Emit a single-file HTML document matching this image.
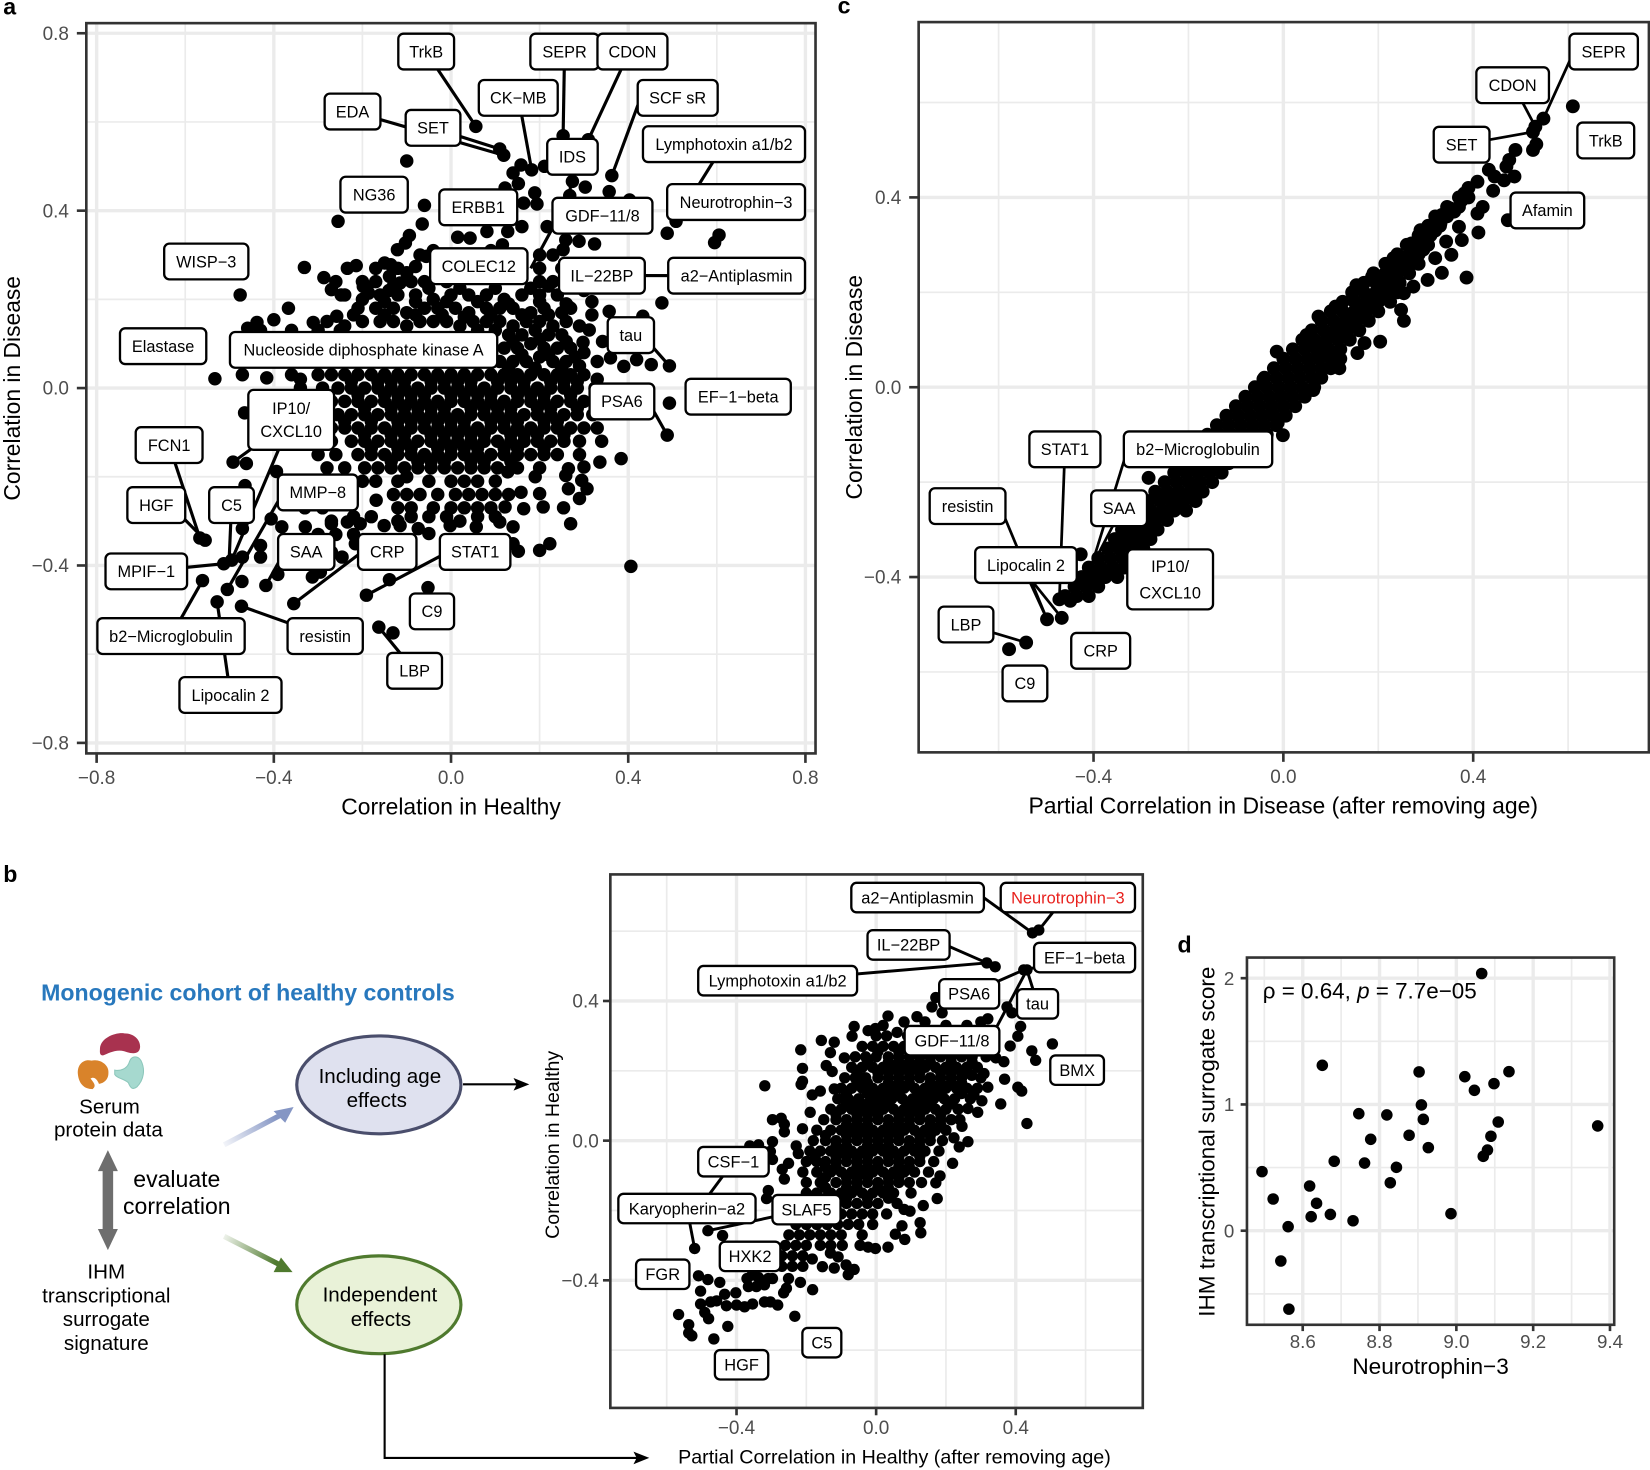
<!DOCTYPE html>
<html lang="en">
<head>
<meta charset="utf-8">
<title>Protein correlation figure</title>
<style>
html,body{margin:0;padding:0;background:#fff;}
svg{display:block;font-family:"Liberation Sans",Arial,sans-serif;}
</style>
</head>
<body>
<svg id="fig" xmlns="http://www.w3.org/2000/svg" width="1650" height="1470" viewBox="0 0 1568 1397">
<defs>
<linearGradient id="blueFade" gradientUnits="userSpaceOnUse" x1="213" y1="1088" x2="262" y2="1061"><stop offset="0" stop-color="#8596c4" stop-opacity="0.1"/><stop offset="1" stop-color="#8596c4"/></linearGradient>
<linearGradient id="greenFade" gradientUnits="userSpaceOnUse" x1="213" y1="1175" x2="262" y2="1200"><stop offset="0" stop-color="#4f7a2e" stop-opacity="0.1"/><stop offset="1" stop-color="#4f7a2e"/></linearGradient>
</defs>
<rect x="0" y="0" width="1568" height="1397" fill="#fff"/>
<g id="layerA"></g>
<g id="layerC"></g>
<g id="layerB"></g>
<g id="layerD"></g>

<g font-weight="700" font-size="22" fill="#000">
<text x="3" y="14">a</text>
<text x="796" y="13">c</text>
<text x="3" y="838">b</text>
<text x="1119" y="905">d</text>
</g>

<text x="428.6" y="774" font-size="21.7" text-anchor="middle" fill="#000">Correlation in Healthy</text>
<text transform="translate(19,369) rotate(-90)" font-size="21.7" text-anchor="middle" fill="#000">Correlation in Disease</text>
<text x="1219.5" y="773" font-size="21.8" text-anchor="middle" fill="#000">Partial Correlation in Disease (after removing age)</text>
<text transform="translate(819,368) rotate(-90)" font-size="21.7" text-anchor="middle" fill="#000">Correlation in Disease</text>
<text x="850" y="1391" font-size="18.7" text-anchor="middle" fill="#000">Partial Correlation in Healthy (after removing age)</text>
<text transform="translate(531,1088) rotate(-90)" font-size="18.6" text-anchor="middle" fill="#000">Correlation in Healthy</text>
<text x="1359.5" y="1306" font-size="21.5" text-anchor="middle" fill="#000">Neurotrophin−3</text>
<text transform="translate(1154,1085) rotate(-90)" font-size="21.4" text-anchor="middle" fill="#000">IHM transcriptional surrogate score</text>
<text x="1200" y="949" font-size="21.3" fill="#000">ρ = 0.64, <tspan font-style="italic">p</tspan> = 7.7e−05</text>

<g>
<ellipse cx="360" cy="1031" rx="78" ry="46.5" fill="#dfe1ef" stroke="#4a4e6c" stroke-width="3"/>
<ellipse cx="360" cy="1240" rx="78" ry="46.5" fill="#e9f2d8" stroke="#4f7a2e" stroke-width="3"/>
<text x="39" y="951" font-size="22" font-weight="700" fill="#2878bd">Monogenic cohort of healthy controls</text>
<path d="M95 996C96 986 110 981 118 982C128 982 134 989 133 996C132 1002 126 1002 118 999C110 997 103 1001 98 1003C94 1003 95 999 95 996Z" fill="#a8324f"/>
<path d="M74 1021C73 1011 80 1006 87 1008C95 1006 104 1012 103 1020C103 1027 97 1030 94 1030C92 1025 89 1023 86 1025C89 1029 92 1032 88 1035C80 1035 75 1030 74 1021Z" fill="#d9832a"/>
<path d="M109 1017C114 1018 121 1016 123 1009C125 1003 131 1003 134 1008C138 1016 137 1026 130 1033C126 1036 124 1034 122 1029C118 1025 111 1025 109 1021Z" fill="#a6d9cf" stroke="#8cc7bb"/>
<g font-size="19.6" text-anchor="middle" fill="#000">
<text x="104" y="1058">Serum</text>
<text x="103" y="1080">protein data</text>
<text x="101" y="1215">IHM</text>
<text x="101" y="1238">transcriptional</text>
<text x="101" y="1260">surrogate</text>
<text x="101" y="1283">signature</text>
<text x="361" y="1029">Including age</text>
<text x="358" y="1052">effects</text>
<text x="361" y="1237">Independent</text>
<text x="362" y="1260">effects</text>
</g>
<g font-size="21.9" text-anchor="middle" fill="#000">
<text x="168" y="1128">evaluate</text>
<text x="168" y="1153.5">correlation</text>
</g>
<polygon points="102.5,1093 112,1113 107.5,1113 107.5,1168 112,1168 102.5,1188 93,1168 97.5,1168 97.5,1113 93,1113" fill="#6e6e6e"/>
<line x1="213" y1="1088" x2="266" y2="1060" stroke="url(#blueFade)" stroke-width="5"/>
<polygon points="279,1052 260,1056 271,1067" fill="#8596c4"/>
<line x1="213" y1="1175" x2="266" y2="1202" stroke="url(#greenFade)" stroke-width="5"/>
<polygon points="278,1209 267,1195 260,1209" fill="#4f7a2e"/>
<line x1="440" y1="1030.5" x2="492" y2="1030.5" stroke="#000" stroke-width="2"/>
<polygon points="503,1030.5 488,1024.5 491,1030.5 488,1036.5" fill="#000"/>
<polyline points="365.5,1287 365.5,1385.5 606,1385.5" fill="none" stroke="#000" stroke-width="2"/>
<polygon points="617,1385.5 602,1379.5 605,1385.5 602,1391.5" fill="#000"/>
</g>

<script>
const aXTicks=[-0.8,-0.4,0,0.4,0.8];
const aYTicks=[0.8,0.4,0,-0.4,-0.8];
const aMinor=[-0.6,-0.2,0.2,0.6];
const cXTicks=[-0.4,0,0.4];
const cYTicks=[0.4,0,-0.4];
const cMinor=[-0.6,-0.2,0.2,0.6];
const bXTicks=[-0.4,0,0.4];
const bYTicks=[0.4,0,-0.4];
const bMinor=[-0.6,-0.2,0.2,0.6];
const dXTicks=[8.6,8.8,9.0,9.2,9.4];
const dYTicks=[2,1,0];
const dXMinor=[8.5,8.7,8.9,9.1,9.3];
const dYMinor=[1.5,0.5,-0.5];

const dNeurotrophin=[9.066,8.651,8.903,9.022,9.047,9.098,9.137,8.909,8.746,8.819,8.914,9.109,9.368,8.877,8.777,9.09,8.927,9.081,9.07,8.682,8.761,8.844,8.494,8.828,8.618,8.523,8.636,8.672,8.622,8.986,8.731,8.562,8.543,8.564];
const dSurrogate=[2.037,1.31,1.258,1.22,1.112,1.165,1.26,0.996,0.927,0.917,0.882,0.861,0.83,0.756,0.724,0.748,0.658,0.639,0.589,0.55,0.536,0.502,0.468,0.38,0.354,0.251,0.217,0.129,0.111,0.135,0.079,0.032,-0.24,-0.621];

const aOutliers=[[.056,.59],[.11,.539],[.119,.525],[-.1,.512],[.253,.569],[.31,.56],[.158,.503],[.182,.492],[.14,.485],[.211,.5],[.363,.479],[.357,.443],[.274,.466],[.303,.453],[.268,.434],[.152,.461],[.122,.451],[.189,.44],[.194,.415],[.164,.417],[-.06,.412],[-.255,.376],[-.065,.37],[.403,.424],[.508,.376],[.488,.349],[.605,.345],[.595,.328],[.16,.364],[.128,.353],[.081,.353],[.217,.364],[.015,.34],[.043,.338],[-.094,.344],[-.103,.327],[-.121,.312],[.116,.323],[.259,.334],[.289,.331],[.324,.325],[.253,.312],[-.15,.282],[-.136,.278],[-.234,.27],[-.214,.276],[-.331,.272],[-.287,.249],[-.27,.222],[-.248,.21],[-.198,.229],[-.186,.214],[-.139,.252],[-.115,.237],[-.08,.274],[-.056,.297],[-.476,.21],[.476,.192],[-.367,.18],[-.4,.154],[-.438,.148],[-.459,.135],[-.311,.148],[-.258,.162],[.357,.173],[.433,.162],[.318,.195],[.265,.184],[.318,.165],[.312,.131],[.342,.105],[.298,.103],[.493,.05],[.452,.053],[.419,.064],[.39,.049],[.36,.068],[-.533,.021],[-.471,.03],[-.416,.023],[.493,-.034],[-.466,-.056],[.488,-.106],[.384,-.159],[.336,-.167],[.3,-.178],[.265,-.182],[.259,-.197],[.295,-.208],[.307,-.227],[.265,-.227],[.29,-.249],[.254,-.27],[.27,-.306],[.208,-.268],[.2,-.238],[.158,-.235],[.164,-.272],[.128,-.189],[.122,-.268],[.14,-.313],[.11,-.302],[.057,-.313],[.223,-.351],[.2,-.366],[.152,-.368],[.14,-.351],[.406,-.402],[-.052,-.45],[-.139,-.432],[-.191,-.467],[-.355,-.486],[-.163,-.539],[-.131,-.552],[-.561,-.434],[-.528,-.482],[-.473,-.492],[-.505,-.454],[-.472,-.436],[-.418,-.445],[-.391,-.42],[-.513,-.396],[-.495,-.388],[-.471,-.381],[-.43,-.355],[-.43,-.381],[-.567,-.338],[-.555,-.343],[-.492,-.167],[-.462,-.17],[-.465,-.22],[-.394,-.188],[-.471,-.317],[-.406,-.295],[-.382,-.313],[-.329,-.313],[-.27,-.306],[-.234,-.302],[-.205,-.306],[-.151,-.31],[-.115,-.31],[-.074,-.317],[-.05,-.328],[-.002,-.31],[-.216,-.351],[-.246,-.381],[-.313,-.426],[-.295,-.415],[-.169,-.253]];

const aCloud=[
[-.07,.3],[-.04,.31],[.01,.29],[.05,.3],[.09,.31],[.13,.3],[.2,.3],[.23,.3],
[-.17,.27],[-.12,.27],[-.1,.26],[-.03,.27],[.06,.27],[.1,.27],[.13,.28],[.16,.27],[.2,.27],[.25,.27],
[-.26,.24],[-.2,.24],[-.17,.24],[-.13,.23],[-.09,.24],[-.06,.24],[-.01,.24],[.2,.24],[.23,.24],[.26,.25],[.3,.24],
[-.24,.21],[-.2,.2],[-.16,.21],[-.12,.21],[-.08,.21],[-.04,.2],[0,.21],[.04,.21],[.08,.21],[.12,.2],[.16,.21],[.2,.21],[.24,.21],[.3,.22],
[-.21,.18],[-.17,.18],[-.13,.18],[-.1,.17],[-.06,.18],[-.03,.18],[.01,.18],[.04,.17],[.08,.18],[.11,.18],[.14,.18],[.18,.17],[.21,.18],[.25,.17],[.27,.18],
[-.28,.15],[-.24,.14],[-.2,.15],[-.16,.15],[-.13,.15],[-.1,.14],[-.07,.15],[-.04,.15],[-.01,.15],[.02,.14],[.05,.15],[.08,.15],[.11,.15],[.14,.14],[.17,.15],[.2,.15],[.23,.14],[.26,.15],[.29,.14],
[-.36,.13],[-.3,.13],[-.25,.13],[.06,.13],[.1,.13],[.13,.12],[.16,.12],[.19,.13],[.22,.12],[.25,.12],
[.12,.09],[.15,.09],[.18,.1],[.21,.09],[.24,.09],[.27,.09],[.3,.08],[-.43,.13],
[.11,.06],[.14,.06],[.17,.06],[.2,.07],[.23,.06],[.26,.06],[.29,.05],[.33,.06],
[-.36,.03],[-.34,.02],[-.3,.03],[-.27,.03],[-.24,.03],[-.21,.03],[-.18,.03],[-.15,.03],[-.12,.03],[-.09,.03],[-.06,.03],[-.03,.03],[0,.03],[.03,.03],[.06,.03],[.09,.03],[.12,.03],[.15,.03],[.18,.03],[.21,.03],[.24,.03],[.27,.03],[.3,.03],[.33,.02],
[-.34,0],[-.29,0],[-.255,0],[-.225,0],[-.195,0],[-.165,0],[-.135,0],[-.105,0],[-.075,0],[-.045,0],[-.015,0],[.015,0],[.045,0],[.075,0],[.105,0],[.135,0],[.165,0],[.195,0],[.225,0],[.255,0],[.285,0],[.325,0],
[-.36,-.03],[-.27,-.03],[-.24,-.03],[-.21,-.03],[-.18,-.03],[-.15,-.03],[-.12,-.03],[-.09,-.03],[-.06,-.03],[-.03,-.03],[0,-.03],[.03,-.03],[.06,-.03],[.09,-.03],[.12,-.03],[.15,-.03],[.18,-.03],[.21,-.03],[.24,-.03],[.27,-.03],[.3,-.03],[.34,-.03],
[-.33,-.06],[-.28,-.06],[-.255,-.06],[-.225,-.06],[-.195,-.06],[-.165,-.06],[-.135,-.06],[-.105,-.06],[-.075,-.06],[-.045,-.06],[-.015,-.06],[.015,-.06],[.045,-.06],[.075,-.06],[.105,-.06],[.135,-.06],[.165,-.06],[.195,-.06],[.225,-.06],[.255,-.06],[.285,-.06],[.32,-.06],
[-.34,-.09],[-.3,-.09],[-.27,-.09],[-.24,-.09],[-.21,-.09],[-.18,-.09],[-.15,-.09],[-.12,-.09],[-.09,-.09],[-.06,-.09],[-.03,-.09],[0,-.09],[.03,-.09],[.06,-.09],[.09,-.09],[.12,-.09],[.15,-.09],[.18,-.09],[.21,-.09],[.24,-.09],[.27,-.09],[.3,-.09],[.33,-.09],
[-.31,-.12],[-.27,-.12],[-.225,-.12],[-.195,-.12],[-.165,-.12],[-.135,-.12],[-.105,-.12],[-.075,-.12],[-.045,-.12],[-.015,-.12],[.015,-.12],[.045,-.12],[.075,-.12],[.105,-.12],[.135,-.12],[.165,-.12],[.195,-.12],[.225,-.12],[.255,-.12],[.29,-.12],[.34,-.12],
[-.3,-.15],[-.26,-.15],[-.21,-.15],[-.18,-.15],[-.15,-.15],[-.12,-.15],[-.09,-.15],[-.06,-.15],[-.03,-.15],[0,-.15],[.03,-.15],[.06,-.15],[.09,-.15],[.12,-.15],[.15,-.15],[.18,-.15],[.21,-.15],[.24,-.15],[.29,-.15],
[-.28,-.18],[-.24,-.18],[-.195,-.18],[-.165,-.18],[-.135,-.18],[-.105,-.18],[-.075,-.18],[-.045,-.18],[-.015,-.18],[.015,-.18],[.045,-.18],[.075,-.18],[.105,-.18],[.15,-.18],[.2,-.18],
[-.26,-.21],[-.2,-.21],[-.17,-.21],[-.12,-.21],[-.1,-.2],[-.05,-.21],[0,-.21],[.03,-.21],[.06,-.21],[.1,-.21],[.19,-.2],
[-.25,-.24],[-.13,-.24],[-.1,-.24],[-.07,-.24],[-.03,-.24],[.01,-.24],[.04,-.24],[.07,-.24],[.1,-.24],[.13,-.24],
[-.33,-.27],[-.29,-.27],[-.12,-.27],[-.09,-.27],[-.04,-.27],[0,-.27],[.03,-.27],[.06,-.27],[.09,-.27],
[-.27,-.3],[-.22,-.29],[-.18,-.29],[-.12,-.3],[-.09,-.29],[-.05,-.29],[-.01,-.29],[.02,-.3],[.06,-.29],[.1,-.29],
[-.3,-.33],[-.26,-.33],[-.22,-.33],[-.34,-.36],[-.31,-.36],[-.27,-.37],[-.3,-.39]];

const aCore=[
[-.19,.225],[-.14,.22],[-.05,.225],[.02,.225],[.1,.225],[.18,.225],[.22,.23],
[-.15,.195],[-.08,.195],[-.01,.195],[.06,.195],[.13,.19],[.2,.195],[.26,.19],
[-.22,.165],[-.15,.165],[-.08,.165],[-.02,.165],[.03,.16],[.09,.165],[.16,.165],[.22,.165],
[.14,.105],[.2,.11],[.26,.105],[.16,.075],[.22,.075],[.28,.07],[.13,.045],[.19,.045],[.25,.045],
[-.225,.015],[-.165,.015],[-.135,.015],[-.105,.015],[-.045,.015],[-.015,.015],[.015,.015],[.045,.015],[.105,.015],[.135,.015],[.165,.015],[.225,.015],[.255,.015],[.285,.015],
[-.21,-.015],[-.15,-.015],[-.12,-.015],[-.09,-.015],[-.06,-.015],[0,-.015],[.03,-.015],[.06,-.015],[.09,-.015],[.15,-.015],[.18,-.015],[.21,-.015],[.27,-.015],
[-.195,-.045],[-.135,-.045],[-.105,-.045],[-.075,-.045],[-.045,-.045],[-.015,-.045],[.045,-.045],[.075,-.045],[.105,-.045],[.135,-.045],[.195,-.045],[.225,-.045],[.285,-.045],
[-.24,-.075],[-.18,-.075],[-.12,-.075],[-.09,-.075],[-.06,-.075],[-.03,-.075],[0,-.075],[.03,-.075],[.09,-.075],[.12,-.075],[.15,-.075],[.21,-.075],[.24,-.075],
[-.195,-.105],[-.135,-.105],[-.105,-.105],[-.045,-.105],[-.015,-.105],[.015,-.105],[.045,-.105],[.075,-.105],[.135,-.105],[.165,-.105],[.195,-.105],[.255,-.105],
[-.18,-.135],[-.12,-.135],[-.09,-.135],[-.03,-.135],[0,-.135],[.03,-.135],[.06,-.135],[.12,-.135],[.15,-.135],[.21,-.135],
[-.135,-.165],[-.075,-.165],[-.045,-.165],[-.015,-.165],[.045,-.165],[.075,-.165],[.135,-.165]];

const cOutliers=[[.61,.592],[.548,.566],[.531,.549],[.526,.538],[.533,.512],[.526,.5],[.489,.5],[.476,.479],[.47,.465],[.487,.444],[.465,.436],[.433,.458],[.445,.444],[.442,.414],[.409,.433],[.381,.408],[.376,.394],[.42,.38],[.409,.366],[.473,.352],[.411,.326],[.351,.377],[.334,.363],[.331,.345],[.37,.338],[.376,.31],[.289,.331],[.304,.324],[.27,.303],[.343,.307],[.32,.272],[.354,.279],[.334,.241],[.386,.231],[.282,.282],[.232,.272],[.304,.226],[.274,.212],[.187,.233],[.254,.198],[.154,.215],[.248,.163],[.254,.14],[.11,.17],[.074,.149],[.204,.096],[.171,.093],[.156,.072],[.118,.04],[.049,.11],[-.014,.075],[-.042,.017],[.063,-.006],[-.001,-.101],[-.012,-.075],[-.284,-.191],[-.427,-.352],[-.472,-.447],[-.498,-.489],[-.467,-.486],[-.542,-.538],[-.578,-.552],[-.449,-.45]];

const cBand=[
[-.46,-.44],[-.435,-.44],[-.41,-.44],[-.44,-.42],[-.415,-.42],[-.39,-.42],[-.425,-.4],[-.4,-.4],[-.375,-.4],[-.35,-.4],
[-.41,-.38],[-.385,-.38],[-.36,-.38],[-.335,-.38],[-.39,-.36],[-.365,-.36],[-.34,-.36],[-.315,-.36],[-.37,-.34],[-.345,-.34],[-.32,-.34],[-.295,-.34],
[-.355,-.32],[-.33,-.32],[-.305,-.32],[-.28,-.32],[-.34,-.3],[-.315,-.3],[-.29,-.3],[-.265,-.3],[-.32,-.28],[-.295,-.28],[-.27,-.28],[-.245,-.28],
[-.305,-.26],[-.28,-.26],[-.255,-.26],[-.23,-.26],[-.205,-.26],[-.285,-.24],[-.26,-.24],[-.235,-.24],[-.21,-.24],[-.185,-.24],
[-.27,-.22],[-.245,-.22],[-.22,-.22],[-.195,-.22],[-.17,-.22],[-.25,-.2],[-.225,-.2],[-.2,-.2],[-.175,-.2],[-.15,-.2],
[-.23,-.18],[-.205,-.18],[-.18,-.18],[-.155,-.18],[-.13,-.18],[-.215,-.16],[-.19,-.16],[-.165,-.16],[-.14,-.16],[-.115,-.16],
[-.195,-.14],[-.17,-.14],[-.145,-.14],[-.12,-.14],[-.095,-.14],[-.175,-.12],[-.15,-.12],[-.125,-.12],[-.1,-.12],[-.075,-.12],[-.05,-.12],
[-.16,-.1],[-.135,-.1],[-.11,-.1],[-.085,-.1],[-.06,-.1],[-.035,-.1],[-.14,-.08],[-.115,-.08],[-.09,-.08],[-.065,-.08],[-.04,-.08],[-.015,-.08],
[-.12,-.06],[-.095,-.06],[-.07,-.06],[-.045,-.06],[-.02,-.06],[.005,-.06],[-.1,-.04],[-.075,-.04],[-.05,-.04],[-.025,-.04],[0,-.04],[.025,-.04],
[-.08,-.02],[-.055,-.02],[-.03,-.02],[-.005,-.02],[.02,-.02],[.045,-.02],[-.06,0],[-.035,0],[-.01,0],[.015,0],[.04,0],[.065,0],
[-.04,.02],[-.015,.02],[.01,.02],[.035,.02],[.06,.02],[.08,.02],[-.02,.04],[.005,.04],[.03,.04],[.055,.04],[.08,.04],[.1,.04],
[0,.06],[.025,.06],[.05,.06],[.075,.06],[.1,.06],[.12,.06],[.02,.08],[.045,.08],[.07,.08],[.095,.08],[.12,.08],
[.04,.1],[.065,.1],[.09,.1],[.115,.1],[.14,.1],[.06,.12],[.085,.12],[.11,.12],[.135,.12],[.16,.12],
[.08,.14],[.105,.14],[.13,.14],[.155,.14],[.18,.14],[.1,.16],[.125,.16],[.15,.16],[.175,.16],[.2,.16],
[.125,.18],[.15,.18],[.175,.18],[.2,.18],[.225,.18],[.145,.2],[.17,.2],[.195,.2],[.22,.2],[.24,.2],
[.17,.22],[.195,.22],[.22,.22],[.245,.22],[.19,.24],[.215,.24],[.24,.24],[.265,.24],[.215,.26],[.24,.26],[.265,.26],[.285,.26],
[.24,.28],[.265,.28],[.285,.28],[.26,.3],[.285,.3],[.305,.3],[.285,.32],[.31,.32],[.305,.34],[.33,.34],[.32,.36],[.345,.36],[.345,.38],[.37,.38],[.37,.4],[.39,.4],[.39,.42]];

const cFill=[
[.12,.13],[.145,.13],[.14,.15],[.165,.15],[.16,.17],[.185,.17],[.18,.19],[.205,.19],[.2,.21],[.225,.21],[.21,.23],[.235,.23],
[.23,.25],[.255,.25],[.25,.27],[.275,.27],[.27,.29],[.295,.29],[.3,.31],[.32,.33],[.33,.35],[.36,.37],
[.06,.09],[.085,.09],[.1,.11],[.125,.11],[.075,.07],[.1,.07],[-.3,-.31],[-.275,-.29],[-.25,-.27],[-.23,-.25],[-.21,-.23],[-.19,-.21]];

const bOutliers=[[.448,.595],[.466,.603],[.317,.509],[.341,.498],[.423,.489],[.432,.489],[.375,.383],[.389,.366],[.414,.327],[.406,.299],[.384,.271],[.446,.257],[.505,.277],[.457,.23],[.406,.153],[.417,.142],[.432,.049],[.357,.105],[.368,.176],[.366,.226],[.343,.237],[.32,.349],[.034,.357],[.117,.355],[.171,.41],[.16,.383],[.189,.366],[-.063,.327],[-.023,.315],[-.002,.321],[-.069,.299],[-.157,.287],[-.12,.282],[-.216,.26],[-.131,.252],[-.091,.237],[-.211,.207],[-.143,.215],[-.126,.198],[-.211,.17],[-.215,.161],[-.319,.157],[-.183,.131],[-.16,.142],[-.12,.148],[-.189,.081],[-.297,.06],[-.272,.064],[-.263,.047],[-.263,.025],[-.211,.034],[-.362,-.015],[-.337,-.012],[-.297,-.003],[-.303,-.031],[-.297,-.054],[-.229,-.015],[-.223,-.037],[-.251,-.065],[-.269,-.082],[-.263,-.11],[-.309,-.143],[-.314,-.166],[-.482,-.258],[-.52,-.309],[-.44,-.272],[-.509,-.387],[-.482,-.398],[-.448,-.406],[-.503,-.431],[-.434,-.44],[-.402,-.436],[-.503,-.468],[-.474,-.462],[-.457,-.459],[-.429,-.473],[-.4,-.471],[-.377,-.476],[-.354,-.468],[-.32,-.462],[-.303,-.462],[-.282,-.471],[-.491,-.492],[-.48,-.51],[-.566,-.498],[-.537,-.527],[-.537,-.551],[-.528,-.559],[-.465,-.568],[-.425,-.532],[-.233,-.503],[-.182,-.427],[-.217,-.406],[-.251,-.395],[-.257,-.423],[-.265,-.436],[-.355,-.385],[-.37,-.395],[-.337,-.392],[-.309,-.395],[-.297,-.395],[-.366,-.418],[-.343,-.418],[-.32,-.413],[-.12,-.365],[-.154,-.361],[-.086,-.356],[-.08,-.384],[-.063,-.369],[-.109,-.333],[-.131,-.322],[-.183,-.339],[-.097,-.3],[-.046,-.3],[-.023,-.305],[-.002,-.309],[.034,-.305],[.055,-.268],[.082,-.283],[.074,-.244],[.126,-.235],[.128,-.264],[.175,-.166],[.135,-.186],[.183,-.101],[.171,-.121],[.097,-.202],[.08,-.197],[.219,-.065],[.263,-.003],[.238,-.018],[.223,.008],[.291,.081],[.303,.114],[.32,.153],[.28,.131],[.263,.092],[.246,.041],[.309,.192],[.274,.187]];

const bCloud=[
[.02,.33],[.08,.34],[.14,.34],[.2,.33],[.26,.33],[.3,.34],
[0,.3],[.03,.3],[.06,.31],[.09,.3],[.12,.3],[.15,.3],[.18,.3],[.21,.3],[.24,.3],[.27,.3],
[-.04,.27],[-.01,.27],[.02,.27],[.05,.27],[.08,.27],[.11,.27],[.14,.27],[.17,.27],[.2,.27],[.23,.27],[.26,.27],[.3,.27],
[-.06,.24],[-.03,.24],[0,.24],[.035,.24],[.065,.24],[.095,.24],[.125,.24],[.155,.24],[.185,.24],[.215,.24],[.245,.24],[.275,.24],[.315,.24],
[-.07,.21],[-.04,.21],[-.01,.21],[.02,.21],[.05,.21],[.08,.21],[.11,.21],[.14,.21],[.17,.21],[.2,.21],[.23,.21],[.26,.21],[.29,.21],
[-.09,.18],[-.06,.18],[-.03,.18],[.005,.18],[.035,.18],[.065,.18],[.095,.18],[.125,.18],[.155,.18],[.185,.18],[.215,.18],[.245,.18],[.3,.18],
[-.1,.15],[-.07,.15],[-.04,.15],[-.01,.15],[.02,.15],[.05,.15],[.08,.15],[.11,.15],[.14,.15],[.17,.15],[.2,.15],[.23,.15],[.26,.15],[.29,.15],
[-.11,.12],[-.08,.12],[-.05,.12],[-.015,.12],[.015,.12],[.045,.12],[.075,.12],[.105,.12],[.135,.12],[.165,.12],[.195,.12],[.225,.12],[.27,.12],
[-.13,.09],[-.1,.09],[-.07,.09],[-.04,.09],[-.01,.09],[.02,.09],[.05,.09],[.08,.09],[.11,.09],[.14,.09],[.17,.09],[.2,.09],[.235,.09],
[-.15,.06],[-.115,.06],[-.085,.06],[-.055,.06],[-.025,.06],[.005,.06],[.035,.06],[.065,.06],[.095,.06],[.125,.06],[.155,.06],[.185,.06],[.215,.06],[.24,.06],
[-.17,.03],[-.13,.03],[-.1,.03],[-.07,.03],[-.04,.03],[-.01,.03],[.02,.03],[.05,.03],[.08,.03],[.11,.03],[.14,.03],[.17,.03],[.2,.03],
[-.18,0],[-.145,0],[-.115,0],[-.085,0],[-.055,0],[-.025,0],[.005,0],[.035,0],[.065,0],[.095,0],[.125,0],[.155,0],[.19,0],
[-.19,-.03],[-.16,-.03],[-.13,-.03],[-.1,-.03],[-.07,-.03],[-.04,-.03],[-.01,-.03],[.02,-.03],[.05,-.03],[.08,-.03],[.11,-.03],[.14,-.03],[.18,-.03],
[-.2,-.06],[-.17,-.06],[-.145,-.06],[-.115,-.06],[-.085,-.06],[-.055,-.06],[-.025,-.06],[.005,-.06],[.035,-.06],[.065,-.06],[.095,-.06],[.125,-.06],[.165,-.06],
[-.21,-.09],[-.17,-.09],[-.13,-.09],[-.1,-.09],[-.07,-.09],[-.04,-.09],[-.01,-.09],[.02,-.09],[.05,-.09],[.08,-.09],[.11,-.09],[.15,-.09],
[-.2,-.12],[-.16,-.12],[-.115,-.12],[-.085,-.12],[-.055,-.12],[-.025,-.12],[.005,-.12],[.035,-.12],[.065,-.12],[.095,-.12],[.13,-.12],
[-.2,-.15],[-.17,-.15],[-.13,-.15],[-.1,-.15],[-.07,-.15],[-.04,-.15],[-.01,-.15],[.02,-.15],[.05,-.15],[.1,-.15],
[-.19,-.18],[-.16,-.18],[-.115,-.18],[-.085,-.18],[-.055,-.18],[-.025,-.18],[.005,-.18],[.06,-.18],
[-.2,-.21],[-.17,-.21],[-.14,-.21],[-.1,-.21],[-.07,-.21],[-.04,-.21],[-.01,-.21],[.03,-.21],
[-.23,-.24],[-.2,-.24],[-.17,-.24],[-.14,-.24],[-.11,-.24],[-.08,-.24],[-.05,-.24],[-.01,-.24],
[-.25,-.27],[-.22,-.27],[-.19,-.27],[-.16,-.27],[-.13,-.27],[-.1,-.27],[-.04,-.27],
[-.26,-.3],[-.23,-.3],[-.2,-.3],[-.16,-.3],[-.13,-.3],
[-.27,-.33],[-.24,-.33],[-.21,-.33],[-.37,-.36],[-.34,-.36],[-.3,-.36],[-.27,-.36],[-.24,-.36],[-.21,-.36]];

const bCore=[
[.005,.255],[.065,.255],[.095,.255],[.155,.255],[.185,.255],[.245,.255],
[-.025,.225],[.035,.225],[.065,.225],[.095,.225],[.125,.225],[.155,.225],[.215,.225],[.275,.225],
[-.055,.195],[.005,.195],[.035,.195],[.065,.195],[.095,.195],[.125,.195],[.185,.195],[.215,.195],[.245,.195],
[-.055,.165],[-.025,.165],[.035,.165],[.065,.165],[.095,.165],[.155,.165],[.185,.165],[.215,.165],[.245,.165],
[-.085,.135],[-.025,.135],[.005,.135],[.035,.135],[.065,.135],[.125,.135],[.155,.135],[.185,.135],[.245,.135],
[-.085,.105],[-.055,.105],[-.025,.105],[.005,.105],[.035,.105],[.095,.105],[.125,.105],[.155,.105],[.215,.105],
[-.115,.075],[-.055,.075],[-.025,.075],[.005,.075],[.065,.075],[.095,.075],[.125,.075],[.185,.075],
[-.085,.045],[-.055,.045],[-.025,.045],[.035,.045],[.065,.045],[.095,.045],[.155,.045],[.185,.045],
[-.145,.015],[-.085,.015],[-.055,.015],[-.025,.015],[.005,.015],[.035,.015],[.065,.015],[.125,.015],[.155,.015],
[-.115,-.015],[-.085,-.015],[-.025,-.015],[.005,-.015],[.035,-.015],[.095,-.015],[.125,-.015],
[-.175,-.045],[-.115,-.045],[-.085,-.045],[-.055,-.045],[-.025,-.045],[.035,-.045],[.065,-.045],[.125,-.045],
[-.145,-.075],[-.115,-.075],[-.055,-.075],[-.025,-.075],[.005,-.075],[.065,-.075],[.095,-.075],
[-.145,-.105],[-.085,-.105],[-.055,-.105],[-.025,-.105],[.035,-.105],[.065,-.105],
[-.145,-.135],[-.085,-.135],[-.055,-.135],[.005,-.135],[.035,-.135],
[-.145,-.165],[-.085,-.165],[-.025,-.165],[.035,-.165]];

const NS='http://www.w3.org/2000/svg';
function mk(tag,attrs,parent){const el=document.createElementNS(NS,tag);for(const k in attrs){el.setAttribute(k,attrs[k]);}parent.appendChild(el);return el;}
const fmt1=v=>v.toFixed(1).replace('-','−');
const fmt0=v=>String(v).replace('-','−');

function drawPanel(o){
  const g=document.getElementById(o.layer);
  const [L,T,R,B]=o.box;
  o.xMinor.forEach(v=>{const el=mk('line',{x1:o.sx(v),x2:o.sx(v),y1:T,y2:B,stroke:'#ebebeb','stroke-width':1.6},g);
    
    });
  o.yMinor.forEach(v=>{const el=mk('line',{x1:L,x2:R,y1:o.sy(v),y2:o.sy(v),stroke:'#ebebeb','stroke-width':1.6},g);
    
    });
  o.xTicks.forEach(v=>{const el=mk('line',{x1:o.sx(v),x2:o.sx(v),y1:T,y2:B,stroke:'#ebebeb','stroke-width':3.2},g);
    
    });
  o.yTicks.forEach(v=>{const el=mk('line',{x1:L,x2:R,y1:o.sy(v),y2:o.sy(v),stroke:'#ebebeb','stroke-width':3.2},g);
    
    });
  o.sets.forEach(s=>s.forEach(p=>{const el=mk('circle',{cx:o.sx(p[0]),cy:o.sy(p[1]),r:o.r,fill:'#000'},g);
    
    }));
  (o.labels||[]).forEach(l=>{(l.targets||[]).forEach(t=>{const s=l.from||[l.cx,l.cy];
    const el=mk('line',{x1:s[0],y1:s[1],x2:o.sx(t[0]),y2:o.sy(t[1]),stroke:'#000','stroke-width':o.leaderW},g);
    
    });});
  (o.labels||[]).forEach(l=>{
    const h=l.h||o.labelH;
    const box=mk('rect',{x:l.cx-l.w/2,y:l.cy-h/2,width:l.w,height:h,rx:5,ry:5,fill:'#fff',stroke:'#000','stroke-width':2.2},g);
    
    
    const lines=l.text.split('\n');
    lines.forEach((t,i)=>{const y=l.cy+5.5+(i-(lines.length-1)/2)*o.lineGap;
      const tx=mk('text',{x:l.cx,y:y,'font-size':o.labelFs,'text-anchor':'middle',fill:l.color||'#000'},g);
      tx.textContent=t;
      
      });
  });
  const fr=mk('rect',{x:L,y:T,width:R-L,height:B-T,fill:'none',stroke:'#333','stroke-width':2.5},g);
  
  
  o.xTicks.forEach(v=>{const el=mk('line',{x1:o.sx(v),x2:o.sx(v),y1:B,y2:B+o.tick,stroke:'#333','stroke-width':2.5},g);
    
    
    const t=mk('text',{x:o.sx(v),y:o.xLabelY,'font-size':o.tickFs,'text-anchor':'middle',fill:'#4d4d4d'},g);
    t.textContent=o.fx(v);
    
    });
  o.yTicks.forEach(v=>{const el=mk('line',{x1:L-o.tick,x2:L,y1:o.sy(v),y2:o.sy(v),stroke:'#333','stroke-width':2.5},g);
    
    
    const t=mk('text',{x:o.yLabelX,y:o.sy(v)+6.3,'font-size':o.tickFs,'text-anchor':'end',fill:'#4d4d4d'},g);
    t.textContent=o.fy(v);
    
    });
}

const aLayout=[
{text:'TrkB',cx:405,cy:49,w:53,from:[412,60],targets:[[.056,.59]]},
{text:'SEPR',cx:536.5,cy:49,w:65,targets:[[.253,.569]]},
{text:'CDON',cx:601,cy:49,w:66.5,from:[593,60],targets:[[.31,.56]]},
{text:'CK−MB',cx:492.5,cy:93,w:75,from:[494,100],targets:[[.182,.492]]},
{text:'SCF sR',cx:644,cy:93,w:76,from:[608,95],targets:[[.363,.479]]},
{text:'EDA',cx:335,cy:106,w:53,targets:[[.119,.525]]},
{text:'SET',cx:411.5,cy:121.5,w:52,targets:[[.11,.539]]},
{text:'IDS',cx:544,cy:149,w:48,targets:[[.268,.434]]},
{text:'Lymphotoxin a1/b2',cx:688,cy:137,w:154,from:[680,150],targets:[[.508,.376]]},
{text:'Neurotrophin−3',cx:699.5,cy:192,w:131},
{text:'NG36',cx:355.5,cy:185,w:64},
{text:'ERBB1',cx:454.5,cy:197,w:74},
{text:'GDF−11/8',cx:572.5,cy:205,w:95,from:[526,215],targets:[[.18,.27]]},
{text:'COLEC12',cx:455,cy:253,w:92.5},
{text:'WISP−3',cx:196,cy:248.5,w:80},
{text:'IL−22BP',cx:572,cy:262,w:81.5},
{text:'a2−Antiplasmin',cx:700,cy:262,w:130,targets:[[.28,.254]]},
{text:'tau',cx:599.5,cy:318.5,w:44,from:[616,325],targets:[[.493,.05]]},
{text:'Elastase',cx:155,cy:329,w:82},
{text:'Nucleoside diphosphate kinase A',cx:345.5,cy:332.5,w:254},
{text:'PSA6',cx:591,cy:381.5,w:61.5,from:[618,385],targets:[[.488,-.106]]},
{text:'EF−1−beta',cx:701.5,cy:377,w:100},
{text:'IP10/\nCXCL10',cx:276.7,cy:399,w:81.5,h:57,targets:[[-.492,-.167],[-.495,-.388]]},
{text:'FCN1',cx:160.7,cy:423,w:63.5,targets:[[-.567,-.338]]},
{text:'HGF',cx:148.5,cy:480,w:55,from:[170,488],targets:[[-.555,-.343]]},
{text:'C5',cx:220,cy:480,w:42.5,targets:[[-.501,-.39]]},
{text:'MMP−8',cx:302,cy:468,w:76,from:[268,470],targets:[[-.505,-.454]]},
{text:'SAA',cx:291,cy:524.5,w:53.5,from:[270,525],targets:[[-.418,-.445]]},
{text:'CRP',cx:368,cy:524.5,w:55.5,from:[350,520],targets:[[-.355,-.486]]},
{text:'STAT1',cx:451.5,cy:524.5,w:67,from:[425,525],targets:[[-.191,-.467]]},
{text:'MPIF−1',cx:139,cy:543,w:77.5,targets:[[-.513,-.396]]},
{text:'C9',cx:410.5,cy:581,w:42,targets:[[-.052,-.45]]},
{text:'b2−Microglobulin',cx:162.5,cy:604.5,w:140,targets:[[-.561,-.434]]},
{text:'resistin',cx:309,cy:604.5,w:71.5,targets:[[-.473,-.492]]},
{text:'LBP',cx:394,cy:637.5,w:52,targets:[[-.163,-.539]]},
{text:'Lipocalin 2',cx:219,cy:660.5,w:97,targets:[[-.528,-.482]]}];

const cLayout=[
{text:'SEPR',cx:1524,cy:49,w:65,from:[1493,55],targets:[[.548,.566]]},
{text:'CDON',cx:1437.5,cy:81,w:69,from:[1443,90],targets:[[.531,.549]]},
{text:'SET',cx:1389,cy:137.5,w:53,targets:[[.526,.538]]},
{text:'TrkB',cx:1526,cy:133.5,w:54},
{text:'Afamin',cx:1470.5,cy:200,w:70},
{text:'STAT1',cx:1012,cy:427,w:67.5,targets:[[-.472,-.447]]},
{text:'b2−Microglobulin',cx:1138.5,cy:427,w:141,from:[1070,432],targets:[[-.411,-.398]]},
{text:'resistin',cx:919.5,cy:481,w:72,from:[952,485],targets:[[-.498,-.489]]},
{text:'SAA',cx:1063.5,cy:483,w:53,from:[1060,495],targets:[[-.41,-.39]]},
{text:'Lipocalin 2',cx:975,cy:537,w:96.5,from:[975,545],targets:[[-.467,-.486],[-.498,-.489]]},
{text:'IP10/\nCXCL10',cx:1112,cy:550.6,w:81.5,h:57},
{text:'LBP',cx:918,cy:593.5,w:52,targets:[[-.542,-.538]]},
{text:'CRP',cx:1046,cy:618.5,w:56},
{text:'C9',cx:974,cy:649.5,w:42.5}];

const bLayout=[
{text:'a2−Antiplasmin',cx:872,cy:853,w:126,from:[925,846],targets:[[.448,.595]]},
{text:'Neurotrophin−3',cx:1014.8,cy:853,w:127.6,color:'#e8211d',from:[1018,845],targets:[[.466,.603]]},
{text:'IL−22BP',cx:863.4,cy:898,w:78,from:[885,892],targets:[[.317,.509]]},
{text:'EF−1−beta',cx:1030.7,cy:910,w:96,targets:[[.423,.489]]},
{text:'Lymphotoxin a1/b2',cx:739,cy:932,w:151,targets:[[.317,.509]]},
{text:'PSA6',cx:921,cy:944.5,w:57,targets:[[.423,.489]]},
{text:'tau',cx:986,cy:954,w:39,targets:[[.432,.489]]},
{text:'GDF−11/8',cx:904.7,cy:989,w:90,from:[945,980],targets:[[.432,.489]]},
{text:'BMX',cx:1023.6,cy:1017,w:51},
{text:'CSF−1',cx:697,cy:1104,w:67,targets:[[-.49,-.17]]},
{text:'Karyopherin−a2',cx:652.8,cy:1148.5,w:130.4,targets:[[-.52,-.309]]},
{text:'SLAF5',cx:766.4,cy:1149.6,w:64.7,targets:[[-.482,-.258]]},
{text:'HXK2',cx:712.8,cy:1194,w:57.6},
{text:'FGR',cx:629.8,cy:1211,w:50.7},
{text:'C5',cx:781,cy:1276,w:37},
{text:'HGF',cx:704.7,cy:1297,w:50.7}];

drawPanel({layer:'layerA',box:[82,22,775,716],sx:v=>428.6+421*v,sy:v=>368.8-421.5*v,xTicks:aXTicks,yTicks:aYTicks,xMinor:aMinor,yMinor:aMinor,
  sets:[aOutliers,aCloud,aCore],r:6.4,leaderW:3,labels:aLayout,labelH:34,labelFs:15.5,lineGap:22,tick:9,tickFs:18,xLabelY:745,yLabelX:65.5,fx:fmt1,fy:fmt1});
drawPanel({layer:'layerC',box:[873,21,1567,715],sx:v=>1219.6+451*v,sy:v=>368-451*v,xTicks:cXTicks,yTicks:cYTicks,xMinor:cMinor,yMinor:cMinor,
  sets:[cOutliers,cBand,cFill],r:6.6,leaderW:2.6,labels:cLayout,labelH:34,labelFs:15.5,lineGap:25,tick:9,tickFs:18,xLabelY:744,yLabelX:856.5,fx:fmt1,fy:fmt1});
drawPanel({layer:'layerB',box:[580,831,1086,1338],sx:v=>832.6+331.7*v,sy:v=>1084-331.8*v,xTicks:bXTicks,yTicks:bYTicks,xMinor:bMinor,yMinor:bMinor,
  sets:[bOutliers,bCloud,bCore],r:5.4,leaderW:2.8,labels:bLayout,labelH:28,labelFs:15.6,lineGap:22,tick:7,tickFs:18,xLabelY:1363,yLabelX:569,fx:fmt1,fy:fmt1});
const dPoints=dNeurotrophin.map((x,i)=>[x,dSurrogate[i]]);
drawPanel({layer:'layerD',box:[1185,910,1534,1259],sx:v=>1238+365*(v-8.6),sy:v=>1169.6-120*v,xTicks:dXTicks,yTicks:dYTicks,xMinor:dXMinor,yMinor:dYMinor,
  sets:[dPoints],r:5.5,leaderW:2,tick:6,tickFs:17.8,xLabelY:1281,yLabelX:1173,fx:fmt1,fy:fmt0});
</script>
</svg>
</body>
</html>
